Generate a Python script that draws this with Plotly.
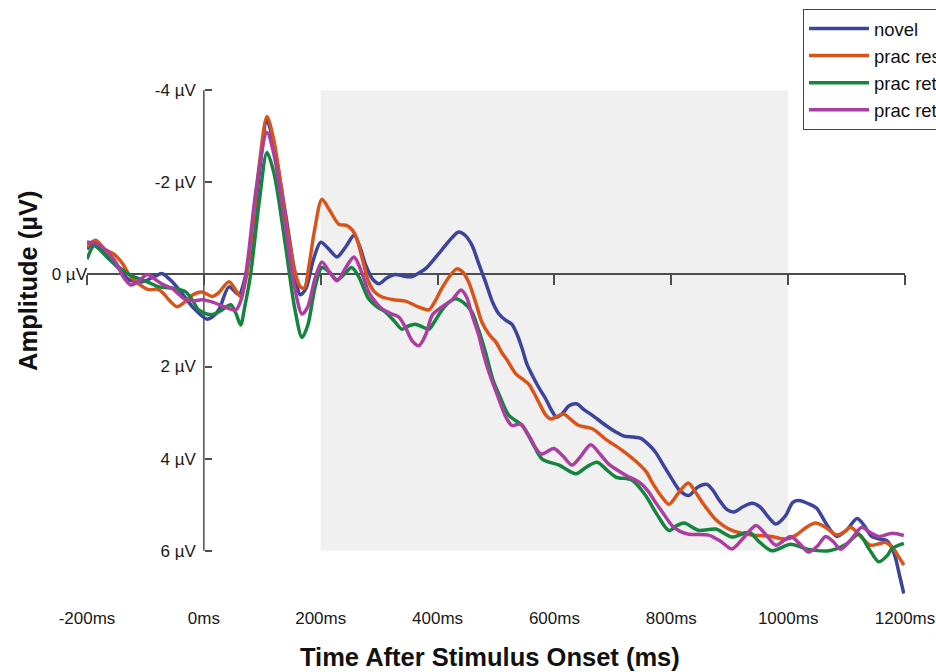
import plotly.graph_objects as go

# ---------------- data (time in ms, amplitude in µV) ----------------
novel_t = [-200, -188, -170, -145, -128, -106, -85, -72, -55, -35, -20, 5, 15, 26, 43, 60, 70, 80, 95, 108,
           120, 140, 155, 165, 175, 187, 200, 214, 228, 243, 257, 267, 277, 290, 300, 314, 328, 342, 356, 368,
           380, 407, 425, 436, 447, 459, 470, 482, 494, 505, 517, 527, 536, 545, 553, 562, 573, 585, 595, 604,
           615, 625, 638, 650, 665, 688, 705, 719, 735, 748, 760, 773, 787, 801, 815, 830, 845, 861, 872, 881,
           895, 907, 922, 938, 952, 965, 979, 995, 1008, 1018, 1035, 1049, 1066, 1083, 1100, 1118, 1130, 1143,
           1158, 1169, 1178, 1184, 1190, 1198]
novel_v = [-0.55, -0.68, -0.45, -0.12, 0.12, 0.16, 0.05, -0.02, 0.15, 0.45, 0.7, 0.97, 0.92, 0.76, 0.27, 0.44, 0.1, -0.5, -2.2, -3.35,
           -2.8, -1.3, -0.1, 0.44, 0.3, -0.3, -0.7, -0.55, -0.38, -0.6, -0.85, -0.6, -0.2, 0.12, 0.2, 0.07, 0.0, 0.04, 0.05, -0.03,
           -0.13, -0.53, -0.8, -0.92, -0.85, -0.63, -0.25, 0.16, 0.6, 0.86, 1.0, 1.08, 1.3, 1.62, 1.95, 2.19, 2.45, 2.7, 2.95, 3.1,
           3.0, 2.85, 2.81, 2.93, 3.06, 3.28, 3.42, 3.51, 3.53, 3.56, 3.68, 3.86, 4.15, 4.44, 4.7, 4.8, 4.62, 4.56, 4.7, 4.88,
           5.1, 5.16, 5.05, 4.97, 5.05, 5.25, 5.42, 5.25, 4.95, 4.91, 4.98, 5.08, 5.43, 5.69, 5.55, 5.3, 5.45, 5.69,
           5.75, 5.78, 5.95, 6.17, 6.5, 6.93]

prac1_t = [-200, -185, -170, -154, -140, -128, -116, -94, -80, -70, -60, -46, -33, -20, -3, 14, 25, 43, 55, 63,
           72, 82, 95, 108, 120, 140, 155, 165, 172, 180, 190, 202, 215, 231, 245, 255, 262, 272, 282, 292,
           305, 325, 345, 368, 385, 395, 407, 420, 433, 443, 453, 465, 476, 488, 500, 510, 519, 534, 545, 556,
           573, 585, 594, 605, 616, 628, 642, 665, 688, 716, 745, 758, 767, 782, 796, 812, 829, 841, 853, 876,
           904, 938, 972, 996, 1015, 1030, 1047, 1065, 1083, 1095, 1107, 1125, 1141, 1155, 1167, 1180, 1190, 1198]
prac1_v = [-0.6, -0.74, -0.55, -0.44, -0.25, 0.0, 0.16, 0.33, 0.32, 0.4, 0.55, 0.7, 0.6, 0.45, 0.38, 0.48, 0.4, 0.16, 0.35, 0.48,
           0.1, -0.85, -2.4, -3.43, -2.9, -1.2, -0.1, 0.27, 0.3, -0.2, -1.0, -1.63, -1.4, -1.09, -1.06, -0.95, -0.77, -0.3, 0.16, 0.38,
           0.49, 0.55, 0.58, 0.71, 0.77, 0.6, 0.31, 0.05, -0.12, -0.05, 0.16, 0.6, 1.04, 1.3, 1.47, 1.7, 1.86, 2.16, 2.27, 2.38,
           2.77, 3.05, 3.14, 3.08, 3.03, 3.15, 3.28, 3.35, 3.58, 3.82, 4.12, 4.3, 4.51, 4.8, 4.99, 4.75, 4.53, 4.72, 4.95, 5.32,
           5.56, 5.66, 5.69, 5.75, 5.65, 5.5, 5.4, 5.5, 5.66, 5.6, 5.49, 5.7, 5.88, 5.85, 5.82, 5.95, 6.15, 6.31]

prac2_t = [-200, -188, -175, -163, -145, -128, -106, -90, -77, -48, -31, -20, -9, 9, 20, 31, 46, 55, 63, 70,
           80, 95, 108, 120, 140, 155, 168, 178, 190, 202, 215, 228, 240, 253, 265, 282, 296, 311, 325, 339,
           350, 362, 374, 385, 396, 407, 420, 431, 445, 459, 470, 482, 495, 505, 522, 545, 562, 579, 608, 637,
           655, 673, 690, 705, 733, 756, 775, 796, 810, 822, 847, 876, 904, 933, 950, 972, 1004, 1035, 1070, 1099,
           1121, 1138, 1155, 1170, 1178, 1198]
prac2_v = [-0.33, -0.62, -0.5, -0.34, -0.15, 0.0, 0.12, 0.2, 0.27, 0.31, 0.38, 0.55, 0.77, 0.87, 0.85, 0.77, 0.66, 0.85, 1.1, 0.7,
           0.0, -1.6, -2.65, -2.2, -0.6, 0.7, 1.37, 1.1, 0.3, -0.15, -0.05, 0.12, 0.0, -0.15, 0.05, 0.53, 0.7, 0.82, 1.0, 1.19,
           1.12, 1.08, 1.14, 1.19, 1.0, 0.78, 0.6, 0.53, 0.62, 0.82, 1.2, 1.69, 2.3, 2.6, 3.06, 3.28, 3.65, 4.01, 4.14, 4.33,
           4.18, 4.08, 4.25, 4.4, 4.47, 4.8, 5.2, 5.56, 5.45, 5.4, 5.56, 5.53, 5.7, 5.6, 5.8, 6.0, 5.86, 5.97, 6.0, 5.86,
           5.64, 5.95, 6.24, 6.1, 5.95, 5.84]

prac3_t = [-200, -185, -170, -150, -138, -125, -112, -97, -82, -70, -55, -31, -15, -3, 15, 35, 55, 65, 75, 90,
           108, 120, 140, 155, 168, 178, 190, 202, 215, 228, 243, 257, 270, 282, 295, 305, 320, 334, 345, 357,
           368, 380, 391, 407, 425, 440, 450, 459, 470, 479, 490, 505, 517, 527, 542, 556, 577, 599, 615, 630,
           645, 662, 678, 693, 722, 745, 760, 773, 787, 801, 815, 830, 864, 885, 904, 925, 945, 962, 979, 1004,
           1020, 1035, 1050, 1064, 1077, 1090, 1108, 1126, 1140, 1155, 1178, 1198]
prac3_v = [-0.7, -0.68, -0.55, -0.25, 0.05, 0.23, 0.15, 0.0, 0.12, 0.22, 0.3, 0.55, 0.57, 0.55, 0.6, 0.7, 0.77, 0.5, -0.3, -1.9,
           -3.08, -2.6, -1.0, 0.25, 0.86, 0.7, 0.1, -0.27, -0.05, 0.14, -0.15, -0.38, -0.05, 0.38, 0.62, 0.75, 0.85, 0.93, 1.15, 1.45,
           1.55, 1.3, 0.88, 0.71, 0.55, 0.34, 0.5, 0.88, 1.3, 1.75, 2.2, 2.71, 3.1, 3.28, 3.25, 3.5, 3.9, 3.78, 3.95, 4.14,
           3.95, 3.7, 3.9, 4.12, 4.36, 4.51, 4.7, 4.95, 5.2, 5.45, 5.58, 5.64, 5.66, 5.8, 5.96, 5.7, 5.45, 5.65, 5.88, 5.69,
           5.85, 6.03, 5.9, 5.69, 5.8, 5.97, 5.75, 5.49, 5.6, 5.69, 5.62, 5.67]

series_names = ["novel", "prac restudy", "prac retrieval correct", "prac retrieval incorrect"]
series_colors = ["#3d449b", "#d9541a", "#14843f", "#ab3ea0"]

x_tick_vals = [-200, 0, 200, 400, 600, 800, 1000, 1200]
x_tick_text = ["-200ms", "0ms", "200ms", "400ms", "600ms", "800ms", "1000ms", "1200ms"]
y_tick_vals = [-4, -2, 0, 2, 4, 6]
y_tick_text = ["-4 µV", "-2 µV", "", "2 µV", "4 µV", "6 µV"]
window_ms = [200, 1000]

X_RANGE = [-200, 1200]
Y_RANGE = [7.2, -4.2]   # reversed: negative up
FONT = "Arial, Liberation Sans, Helvetica, sans-serif"
AXIS_COLOR = "#4d4d4d"

fig = go.Figure()
for t, v, name, col in zip([novel_t, prac1_t, prac2_t, prac3_t],
                           [novel_v, prac1_v, prac2_v, prac3_v],
                           series_names, series_colors):
    fig.add_trace(go.Scatter(x=t, y=v, mode="lines", name=name,
                             line=dict(color=col, width=3.5, shape="spline", smoothing=0.8)))

# helper traces that bind the extra axes
fig.add_trace(go.Scatter(x=[None], y=[None], xaxis="x2", yaxis="y", showlegend=False, hoverinfo="skip"))
fig.add_trace(go.Scatter(x=[None], y=[None], xaxis="x", yaxis="y2", showlegend=False, hoverinfo="skip"))

zero_pos = (Y_RANGE[0] - 0) / (Y_RANGE[0] - Y_RANGE[1])
yaxis_pos = (0 - X_RANGE[0]) / (X_RANGE[1] - X_RANGE[0])

fig.add_shape(type="rect", x0=window_ms[0], x1=window_ms[1], y0=y_tick_vals[0], y1=y_tick_vals[-1],
              xref="x", yref="y", fillcolor="#f0f0f0", line=dict(width=0), layer="below")
fig.add_shape(type="line", x0=0, x1=0, y0=y_tick_vals[0], y1=y_tick_vals[-1],
              xref="x", yref="y", line=dict(color=AXIS_COLOR, width=1.5), layer="below")

fig.update_layout(
    width=936, height=672,
    margin=dict(l=87, r=31, t=81, b=66, autoexpand=False),
    paper_bgcolor="white", plot_bgcolor="white",
    font=dict(family=FONT, size=17, color="#1a1a1a"),
    xaxis=dict(range=X_RANGE, tickvals=x_tick_vals, ticktext=x_tick_text, showline=False,
               showgrid=False, zeroline=False, ticks="", tickfont=dict(size=17)),
    xaxis2=dict(range=X_RANGE, overlaying="x", anchor="free", position=zero_pos,
                tickvals=x_tick_vals, showticklabels=False, showline=True, linecolor=AXIS_COLOR,
                linewidth=1.5, ticks="outside", ticklen=10, tickwidth=1.5, tickcolor=AXIS_COLOR,
                showgrid=False, zeroline=False, layer="below traces"),
    yaxis=dict(range=Y_RANGE, anchor="free", position=yaxis_pos, side="left",
               tickvals=y_tick_vals, ticktext=y_tick_text, ticks="inside", ticklen=7,
               tickwidth=1.5, tickcolor=AXIS_COLOR, showline=False, showgrid=False,
               zeroline=False, tickfont=dict(size=17), ticklabelstandoff=8, layer="below traces"),
    yaxis2=dict(range=Y_RANGE, overlaying="y", anchor="free", position=0, side="left",
                tickvals=[0], ticktext=["0 µV"], ticks="", showline=False, showgrid=False,
                zeroline=False, tickfont=dict(size=17)),
    legend=dict(x=(803 - 87) / 818, y=(606.3 - 9) / 525.3, xanchor="left", yanchor="top",
                bgcolor="white", bordercolor="#444", borderwidth=1,
                font=dict(size=18.5, color="#111"), itemwidth=60, tracegroupgap=0),
    showlegend=True,
)

fig.add_annotation(text="<b>Time After Stimulus Onset (ms)</b>", xref="paper", yref="paper",
                   x=(490 - 87) / 818, y=(606.3 - 657) / 525.3, xanchor="center", yanchor="middle",
                   showarrow=False, font=dict(size=25.5, color="#111"))
fig.add_annotation(text="<b>Amplitude (µV)</b>", xref="paper", yref="paper",
                   x=(28 - 87) / 818, y=(606.3 - 281) / 525.3, xanchor="center", yanchor="middle",
                   textangle=-90, showarrow=False, font=dict(size=25.5, color="#111"))

fig.write_html("out.html", config={"displayModeBar": False},
               post_script="document.body.style.margin='0px';")
